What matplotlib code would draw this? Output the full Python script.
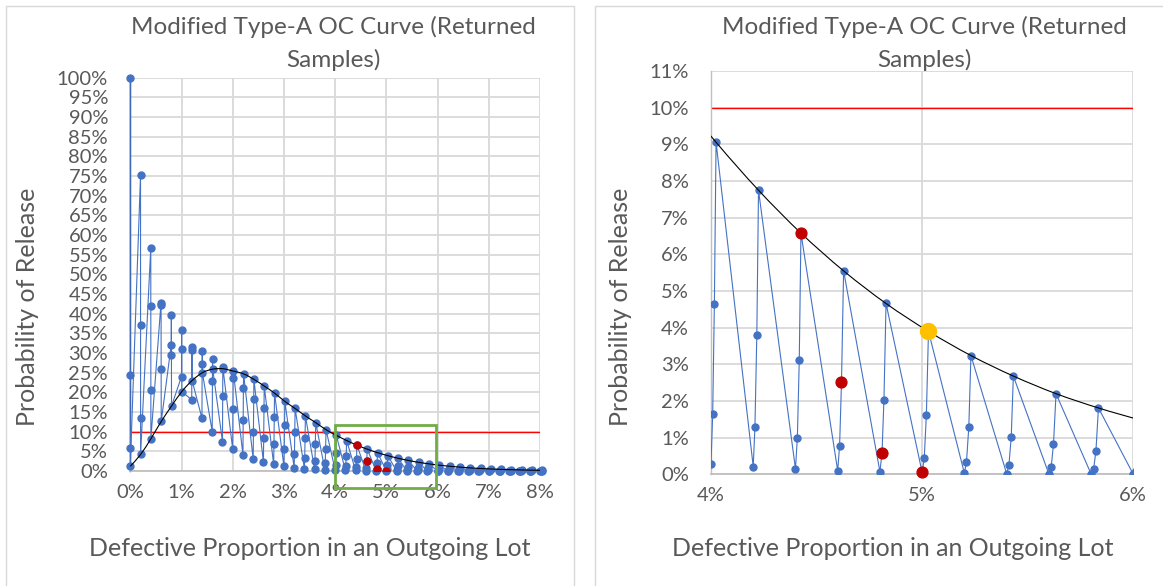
import matplotlib
matplotlib.use("Agg")
import matplotlib.pyplot as plt
from matplotlib.path import Path
from matplotlib.patches import PathPatch, Rectangle
from matplotlib.lines import Line2D
from matplotlib.ticker import FixedLocator, FuncFormatter

plt.rcParams['font.family'] = ['Lato', 'DejaVu Sans']

# ---------------- data (percent units) ----------------
# x of the four points in each group (d = 0..3), groups every 0.2 %
x_d0 = [0.000, 0.200, 0.400, 0.600, 0.800, 1.000, 1.200, 1.400, 1.600, 1.800, 2.000,
        2.200, 2.400, 2.600, 2.800, 3.000, 3.200, 3.400, 3.600, 3.800, 4.000,
        4.200, 4.400, 4.600, 4.800, 5.000, 5.200, 5.400, 5.600, 5.800, 6.000,
        6.200, 6.400, 6.600, 6.800, 7.000, 7.200, 7.400, 7.600, 7.800, 8.000]
x_d1 = [0.000, 0.200, 0.401, 0.601, 0.802, 1.002, 1.202, 1.403, 1.603, 1.804, 2.004,
        2.204, 2.405, 2.605, 2.806, 3.006, 3.206, 3.407, 3.607, 3.808, 4.008,
        4.208, 4.409, 4.609, 4.810, 5.010, 5.210, 5.411, 5.611, 5.812, 6.012,
        6.212, 6.413, 6.613, 6.814, 7.014, 7.214, 7.415, 7.615, 7.816, 8.016]
x_d2 = [0.000, 0.201, 0.402, 0.602, 0.803, 1.004, 1.205, 1.406, 1.606, 1.807, 2.008,
        2.209, 2.410, 2.610, 2.811, 3.012, 3.213, 3.414, 3.614, 3.815, 4.016,
        4.217, 4.418, 4.618, 4.819, 5.020, 5.221, 5.422, 5.622, 5.823, 6.024,
        6.225, 6.426, 6.626, 6.827, 7.028, 7.229, 7.430, 7.630, 7.831, 8.032]
x_d3 = [0.000, 0.201, 0.402, 0.604, 0.805, 1.006, 1.207, 1.408, 1.610, 1.811, 2.012,
        2.213, 2.414, 2.616, 2.817, 3.018, 3.219, 3.420, 3.622, 3.823, 4.024,
        4.225, 4.426, 4.628, 4.829, 5.030, 5.231, 5.432, 5.634, 5.835, 6.036,
        6.237, 6.438, 6.640, 6.841, 7.042, 7.243, 7.444, 7.646, 7.847, 8.048]

# probability of release (%) for the four points in each group
p_d0 = [100.0, 75.3, 56.7, 42.8, 32.1, 24.0, 18.1, 13.4, 10.0, 7.5, 5.5,
        4.1, 3.0, 2.3, 1.7, 1.2, 0.8, 0.6, 0.4, 0.35, 0.29,
        0.21, 0.15, 0.10, 0.07, 0.05, 0.03, 0.02, 0.01, 0.01, 0.0,
        0.0, 0.0, 0.0, 0.0, 0.0, 0.0, 0.0, 0.0, 0.0, 0.0]
p_d1 = [24.4, 37.1, 42.0, 42.2, 39.7, 35.9, 31.5, 27.2, 22.9, 19.1, 15.7,
        13.0, 10.0, 8.4, 6.8, 5.5, 4.3, 3.4, 2.6, 2.0, 1.65,
        1.28, 0.99, 0.77, 0.59, 0.45, 0.34, 0.25, 0.19, 0.14, 0.10,
        0.08, 0.06, 0.04, 0.03, 0.02, 0.02, 0.01, 0.01, 0.01, 0.0]
p_d2 = [5.8, 13.5, 20.5, 25.9, 29.5, 31.0, 30.8, 30.4, 28.5, 26.5, 23.6,
        21.0, 18.4, 16.0, 13.8, 11.8, 10.0, 8.3, 6.9, 5.6, 4.65,
        3.81, 3.11, 2.51, 2.02, 1.62, 1.29, 1.03, 0.82, 0.64, 0.50,
        0.39, 0.30, 0.23, 0.18, 0.14, 0.10, 0.08, 0.06, 0.05, 0.04]
p_d3 = [1.2, 4.2, 8.2, 12.6, 16.5, 20.2, 23.0, 25.0, 25.9, 26.0, 25.4,
        24.7, 23.3, 21.6, 19.8, 17.7, 15.9, 14.0, 12.3, 10.5, 9.06,
        7.75, 6.58, 5.55, 4.66, 3.90, 3.24, 2.68, 2.20, 1.81, 1.48,
        1.21, 0.98, 0.79, 0.64, 0.51, 0.41, 0.33, 0.26, 0.21, 0.16]

threshold = 10.0
red_x = [4.426, 4.618, 4.810, 5.000]
red_y = [6.58, 2.51, 0.59, 0.05]
yellow_x = [5.030]
yellow_y = [3.90]

title = "Modified Type-A OC Curve (Returned\nSamples)"
xlabel = "Defective Proportion in an Outgoing Lot"
ylabel = "Probability of Release"

# series order: group by group, d = 0,1,2,3
series_x, series_y = [], []
for k in range(len(x_d0)):
    series_x += [x_d0[k], x_d1[k], x_d2[k], x_d3[k]]
    series_y += [p_d0[k], p_d1[k], p_d2[k], p_d3[k]]

BLUE = '#4472C4'
GRID = '#D9D9D9'
TXT = '#595959'

W, H = 1163, 586
fig = plt.figure(figsize=(W / 100, H / 100), dpi=100)


def fx(px):
    return px / W


def fy(py):
    return 1 - py / H


def smooth_path(xs, ys):
    pts = list(zip(xs, ys))
    n = len(pts)
    verts = [pts[0]]
    codes = [Path.MOVETO]
    for i in range(n - 1):
        p0 = pts[i - 1] if i > 0 else pts[i]
        p1 = pts[i]
        p2 = pts[i + 1]
        p3 = pts[i + 2] if i + 2 < n else pts[i + 1]
        c1 = (p1[0] + (p2[0] - p0[0]) / 6, p1[1] + (p2[1] - p0[1]) / 6)
        c2 = (p2[0] - (p3[0] - p1[0]) / 6, p2[1] - (p3[1] - p1[1]) / 6)
        verts += [c1, c2, p2]
        codes += [Path.CURVE4] * 3
    return Path(verts, codes)


def style(ax, xt, yt, left_color):
    ax.set_axisbelow(True)
    ax.xaxis.set_major_locator(FixedLocator(xt))
    ax.yaxis.set_major_locator(FixedLocator(yt))
    ax.xaxis.set_major_formatter(FuncFormatter(lambda v, p: f"{v:.0f}%"))
    ax.yaxis.set_major_formatter(FuncFormatter(lambda v, p: f"{v:.0f}%"))
    ax.grid(True, color=GRID, lw=1.3)
    for s in ('top', 'right'):
        ax.spines[s].set_visible(False)
    ax.spines['bottom'].set_color('#BFBFBF')
    ax.spines['bottom'].set_linewidth(1.3)
    ax.spines['left'].set_color(left_color)
    ax.spines['left'].set_linewidth(1.0)
    ax.tick_params(axis='both', length=0, labelsize=14.5, labelcolor=TXT)
    ax.tick_params(axis='y', pad=16)
    ax.tick_params(axis='x', pad=9)


# ---------------- left panel ----------------
axL = fig.add_axes([fx(130.3), fy(471.0), fx(539.9) - fx(130.3), fy(77.7) - fy(471.0)])
axL.set_xlim(0, 8)
axL.set_ylim(0, 100)
style(axL, range(0, 9), range(0, 101, 5), '#1F3864')
axL.axhline(threshold, color='#FF0000', lw=1.0, zorder=2)
axL.plot(series_x, series_y, color=BLUE, lw=0.8, marker='o', ms=5.0,
         mfc=BLUE, mec=BLUE, zorder=3, clip_on=False)
axL.add_patch(PathPatch(smooth_path(x_d3, p_d3), fill=False, ec='black', lw=0.8, zorder=4))
axL.plot(red_x, red_y, ls='none', marker='o', ms=5.0, mfc='#C00000', mec='#C00000', zorder=5)
axL.add_patch(Rectangle((3.99, -4.4), 1.98, 16.1, fill=False, ec='#70AD47', lw=2.0,
                        clip_on=False, zorder=6))

# ---------------- right panel ----------------
axR = fig.add_axes([fx(711.0), fy(474.3), fx(1133.3) - fx(711.0), fy(71.1) - fy(474.3)])
axR.set_xlim(4, 6)
axR.set_ylim(0, 11)
style(axR, [4, 5, 6], range(0, 12), '#BFBFBF')
axR.axhline(threshold, color='#FF0000', lw=1.0, zorder=2)
axR.plot(series_x, series_y, color=BLUE, lw=0.8, marker='o', ms=5.0,
         mfc=BLUE, mec=BLUE, zorder=3)
axR.add_patch(PathPatch(smooth_path(x_d3, p_d3), fill=False, ec='black', lw=0.8, zorder=4))
axR.plot(red_x, red_y, ls='none', marker='o', ms=7.8, mfc='#C00000', mec='#C00000',
         zorder=5, clip_on=False)
axR.plot(yellow_x, yellow_y, ls='none', marker='o', ms=11.5, mfc='#FFC000', mec='#FFC000',
         zorder=6)

# ---------------- texts ----------------
for cx, cy_lab, cx_yl in ((333, 310, 28), (924, 893, 620)):
    fig.text(fx(cx), fy(16), title, ha='center', va='top', fontsize=17.5, color=TXT,
             linespacing=1.62)
    fig.text(fx(cy_lab), fy(548), xlabel, ha='center', va='center', fontsize=18, color=TXT)
    fig.text(fx(cx_yl), fy(307), ylabel, ha='center', va='center', rotation=90,
             fontsize=18, color=TXT)

# chart borders
def border(pts):
    xs = [fx(p[0]) for p in pts]
    ys = [fy(p[1]) for p in pts]
    fig.add_artist(Line2D(xs, ys, color=GRID, lw=1.0))

border([(5.7, 586), (5.7, 5.7), (574.3, 5.7), (574.3, 586)])
border([(595.3, 586), (595.3, 5.7), (1163, 5.7)])

fig.savefig('out.png', dpi=100)
